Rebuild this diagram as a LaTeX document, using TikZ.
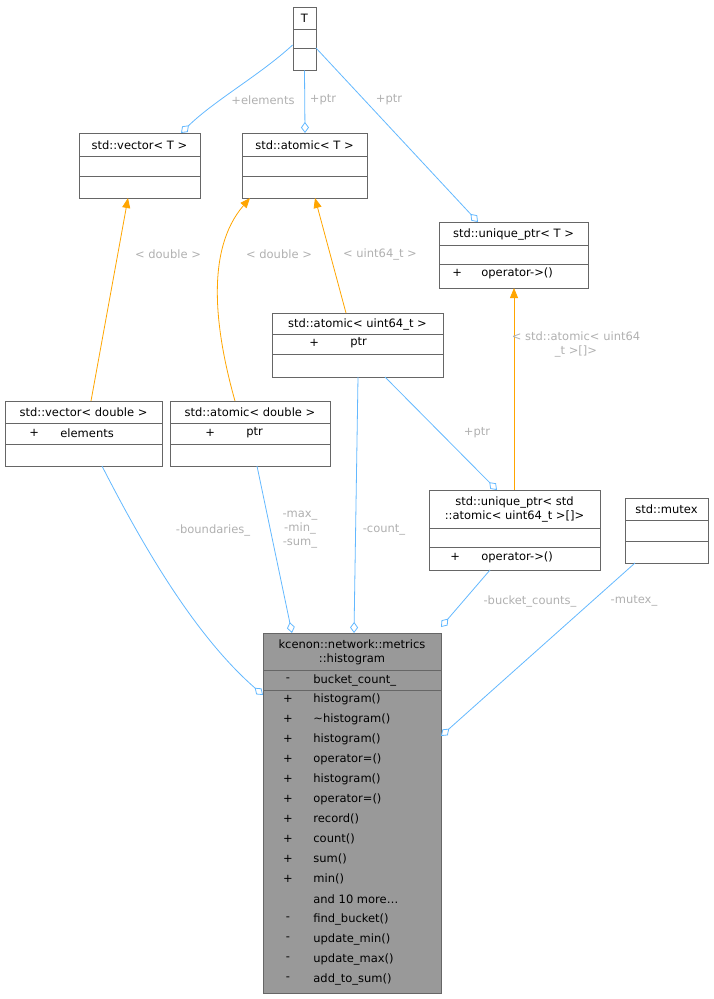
\documentclass[tikz,border=0pt]{standalone}
\usepackage{fontspec}
\setmainfont{DejaVu Sans}
\usetikzlibrary{arrows.meta}
\definecolor{eblue}{HTML}{63B8FF}
\definecolor{eor}{HTML}{FFA500}
\definecolor{lab}{HTML}{B0B0B0}
\definecolor{bd}{HTML}{666666}
\begin{document}
\begin{tikzpicture}[x=1pt,y=-1pt,line width=0.8pt,
 box/.style={draw=bd,fill=white,inner sep=0,rectangle},
 t/.style={font=\fontsize{11.5}{14}\selectfont,inner sep=0,anchor=center},
 tw/.style={t,anchor=west},
 lb/.style={font=\fontsize{11.5}{14}\selectfont,text=lab,inner sep=1pt,align=center},
 comp/.style={eblue,{Diamond[open,length=11pt,width=8pt]}-},
 inh/.style={eor,-{Triangle[length=10pt,width=8pt]}}]
\useasboundingbox (0,0) rectangle (714,999);
% T
\node[box,minimum width=23,minimum height=63] (T) at (304.5,38.5) {};
\draw[bd] (293,29)--(316,29) (293,48)--(316,48);
\node[t] (Tt) at (304.5,18) {T};
% vector<T>
\node[box,minimum width=121,minimum height=65] (vT) at (139.5,165.5) {};
\draw[bd] (79,156)--(200,156) (79,176)--(200,176);
\node[t] (vTt) at (139.5,145) {std::vector< T >};
% atomic<T>
\node[box,minimum width=125,minimum height=65] (aT) at (304.5,165.5) {};
\draw[bd] (242,156)--(367,156) (242,176)--(367,176);
\node[t] (aTt) at (304.5,145) {std::atomic< T >};
% unique_ptr<T>
\node[box,minimum width=149,minimum height=66] (uT) at (513.5,255) {};
\draw[bd] (439,245)--(588,245) (439,264)--(588,264);
\node[t] (uTt) at (513.5,234) {std::unique\_ptr< T >};
\node[tw] (uTp) at (452,273) {+};
\node[tw] (uTo) at (481,273) {operator->()};
% atomic<uint64_t>
\node[box,minimum width=171,minimum height=64] (aU) at (357.5,345) {};
\draw[bd] (272,334)--(443,334) (272,354)--(443,354);
\node[t] (aUt) at (357.5,324) {std::atomic< uint64\_t >};
\node[tw] (aUp) at (309,343) {+};
\node[tw] (aUn) at (350,343) {ptr};
% vector<double>
\node[box,minimum width=157,minimum height=65] (vD) at (83.5,433.5) {};
\draw[bd] (5,423)--(162,423) (5,444)--(162,444);
\node[t] (vDt) at (83.5,412) {std::vector< double >};
\node[tw] (vDp) at (29,433) {+};
\node[tw] (vDn) at (60,433) {elements};
% atomic<double>
\node[box,minimum width=160,minimum height=65] (aD) at (250,433.5) {};
\draw[bd] (170,423)--(330,423) (170,444)--(330,444);
\node[t] (aDt) at (250,412) {std::atomic< double >};
\node[tw] (aDp) at (205,433) {+};
\node[tw] (aDn) at (246,433) {ptr};
% unique_ptr<atomic[]>
\node[box,minimum width=171,minimum height=80] (uA) at (514.5,530) {};
\draw[bd] (429,528)--(600,528) (429,547)--(600,547);
\node[t,align=center] (uAt) at (514.5,509) {std::unique\_ptr< std\\::atomic< uint64\_t >[]>};
\node[tw] (uAp) at (450,557) {+};
\node[tw] (uAo) at (481,557) {operator->()};
% mutex
\node[box,minimum width=83,minimum height=65] (mx) at (666.5,530.5) {};
\draw[bd] (625,520)--(708,520) (625,541)--(708,541);
\node[t] (mxt) at (666.5,509) {std::mutex};
% histogram
\node[box,fill=black!40,minimum width=178,minimum height=360] (H) at (352,813) {};
\draw[bd] (263,670)--(441,670) (263,690)--(441,690);
\node[t,align=center] (Ht) at (352,652) {kcenon::network::metrics\\::histogram};
\node[t] (Hs0) at (288,680) {-};
\node[tw] (Hn0) at (313,680) {bucket\_count\_};
\foreach \s/\n [count=\i] in {+/histogram(),+/\textasciitilde histogram(),+/histogram(),+/operator=(),+/histogram(),+/operator=(),+/record(),+/count(),+/sum(),+/min(),{}/{and 10 more\ldots},-/find\_bucket(),-/update\_min(),-/update\_max(),-/add\_to\_sum()}{
  \node[t] (Hs\i) at (288,679+\i*20) {\s};
  \node[tw] (Hn\i) at (313,679+\i*20) {\n};
}
% edges T
\draw[comp] (181,133) .. controls (215,100) and (260,75) .. (T.west |- 0,45);
\node[lb] (l1) at (263,100) {+elements};
\draw[comp] (305,133) -- (T.south);
\node[lb] (l2) at (323,100) {+ptr};
\draw[comp] (478,222) -- (316,48);
\node[lb] (l3) at (389,100) {+ptr};
% inheritance
\draw[inh] (91,401) -- (128,198);
\node[lb] (l4) at (168,254) {< double >};
\draw[inh] (235,401) .. controls (215,330) and (205,250) .. (250,198);
\node[lb] (l5) at (279,254) {< double >};
\draw[inh] (346,313) -- (315,198);
\node[lb] (l6) at (380,254) {< uint64\_t >};
\draw[inh] (514,490) -- (514,288);
\node[lb] (l7) at (576,344) {< std::atomic< uint64\\\_t >[]>};
% composition
\draw[comp] (497,490) -- (385,377);
\node[lb] (l8) at (477,433) {+ptr};
\draw[comp] (263,695) .. controls (200,640) and (150,560) .. (102,466);
\node[lb] (l9) at (213,530) {-boundaries\_};
\draw[comp] (292,633) -- (257,466);
\node[lb] (l10) at (300,530) {-max\_\\-min\_\\-sum\_};
\draw[comp] (354,633) -- (358,377);
\node[lb] (l11) at (384,530) {-count\_};
\draw[comp] (441,627) -- (490,570);
\node[lb] (l12) at (530,601) {-bucket\_counts\_};
\draw[comp] (441,736) -- (635,563);
\node[lb] (l13) at (634,601) {-mutex\_};
\end{tikzpicture}
\end{document}
